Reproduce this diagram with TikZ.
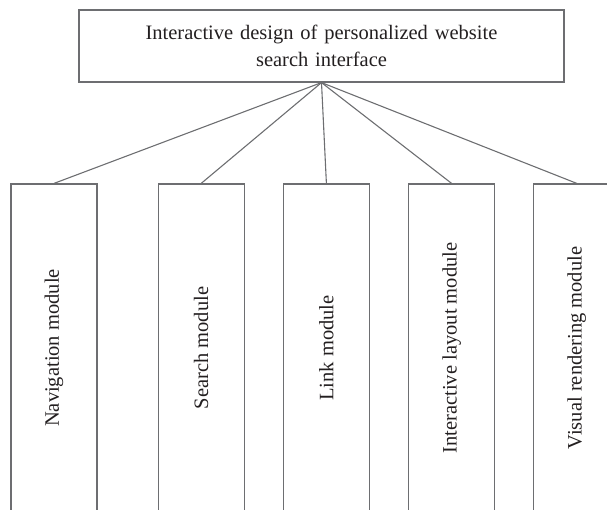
\documentclass[tikz,border=0pt]{standalone}
\usepackage{fontspec}
\setmainfont{Liberation Serif}
\usepackage{graphicx}
\usetikzlibrary{positioning}
\definecolor{dgInk}{HTML}{231F20}
\definecolor{dgLine}{HTML}{6D6E71}
\tikzset{
  rootbox/.style={rectangle,draw=dgLine,line width=1.2pt,
    minimum width=485pt,minimum height=72pt,text width=460pt,
    inner sep=0pt,align=center,
    font=\fontsize{20.5}{26.5}\selectfont,text=dgInk},
  modbox/.style={rectangle,draw=dgLine,line width=1.2pt,
    minimum width=86pt,minimum height=328pt,inner sep=0pt,
    font=\fontsize{20.5}{24}\selectfont,text=dgInk},
  conn/.style={draw=dgLine,line width=1.1pt},
}

\begin{document}
\begin{tikzpicture}[x=1pt,y=1pt]
  \useasboundingbox (0,0) rectangle (607,-510);
  \clip (0,0) rectangle (607,-510);

  \node[rootbox] (root) at (321.5,-46)
    {Interactive design of personalized website\\search interface};

  \node[modbox] (nav) at (54,-348) {\rotatebox{90}{Navigation module}};
  \node[modbox,right=60pt of nav] (srch) {\rotatebox{90}{Search module}};
  \node[modbox,right=38pt of srch] (lnk) {\rotatebox{90}{Link module}};
  \node[modbox,right=38pt of lnk] (lay) {\rotatebox{90}{Interactive layout module}};
  \node[modbox,right=38pt of lay] (vis) {\rotatebox{90}{Visual rendering module}};

  \draw[conn] (root.south) -- (nav.north);
  \draw[conn] (root.south) -- (srch.north);
  \draw[conn] (root.south) -- (lnk.north);
  \draw[conn] (root.south) -- (lay.north);
  \draw[conn] (root.south) -- (vis.north);
\end{tikzpicture}
\end{document}
